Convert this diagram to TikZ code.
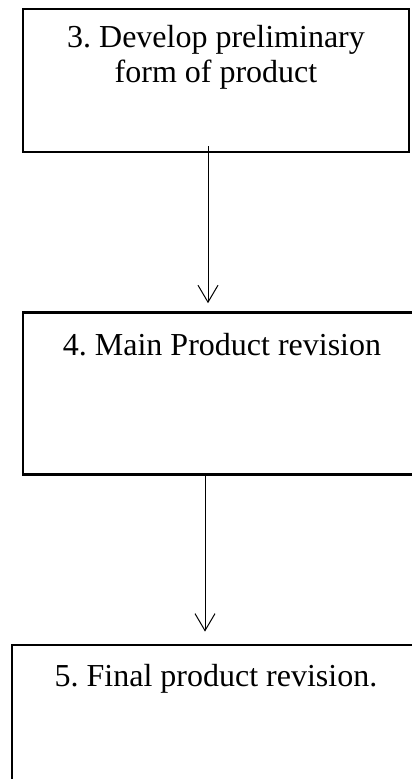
\documentclass[tikz,border=0pt]{standalone}
\usepackage{fontspec}
\setmainfont{Liberation Serif}
\frenchspacing
\usetikzlibrary{positioning, arrows.meta}
\tikzset{
    stagenode/.style = {draw, rectangle, line width=2.4pt, inner sep=0em, align=center, 
      font=\fontsize{32}{35}\selectfont},
    connect/.style = {black, line width=1pt, -{Straight Barb[length=17pt, width=20pt, line width=1pt]}}
}

\begin{document}
\begin{tikzpicture}[x=1pt, y=-1pt]
    \clip (0,0) rectangle (412,779);

    \node [name=prelim, stagenode, minimum width=386pt, text height=73pt, text depth=70pt] 
        at (216,80.5) {3. Develop preliminary\\form of product}; 
    \node [name=main, stagenode, minimum width=398pt, text height=43pt, text depth=119pt, 
        below=158pt of prelim, xshift=6pt] {4. Main Product revision}; 
    \node [name=final, stagenode, minimum width=408pt, text height=42pt, text depth=118pt, 
        below=168pt of main, xshift=-6pt] {5. Final product revision.}; 

    \draw [connect] ([xshift=-8pt, yshift=7pt]prelim.south) -- ([xshift=-14pt, yshift=8pt]main.north);
    \draw [connect] ([xshift=-17pt]main.south) -- ([xshift=-11pt, yshift=12pt]final.north);
\end{tikzpicture}
\end{document}
